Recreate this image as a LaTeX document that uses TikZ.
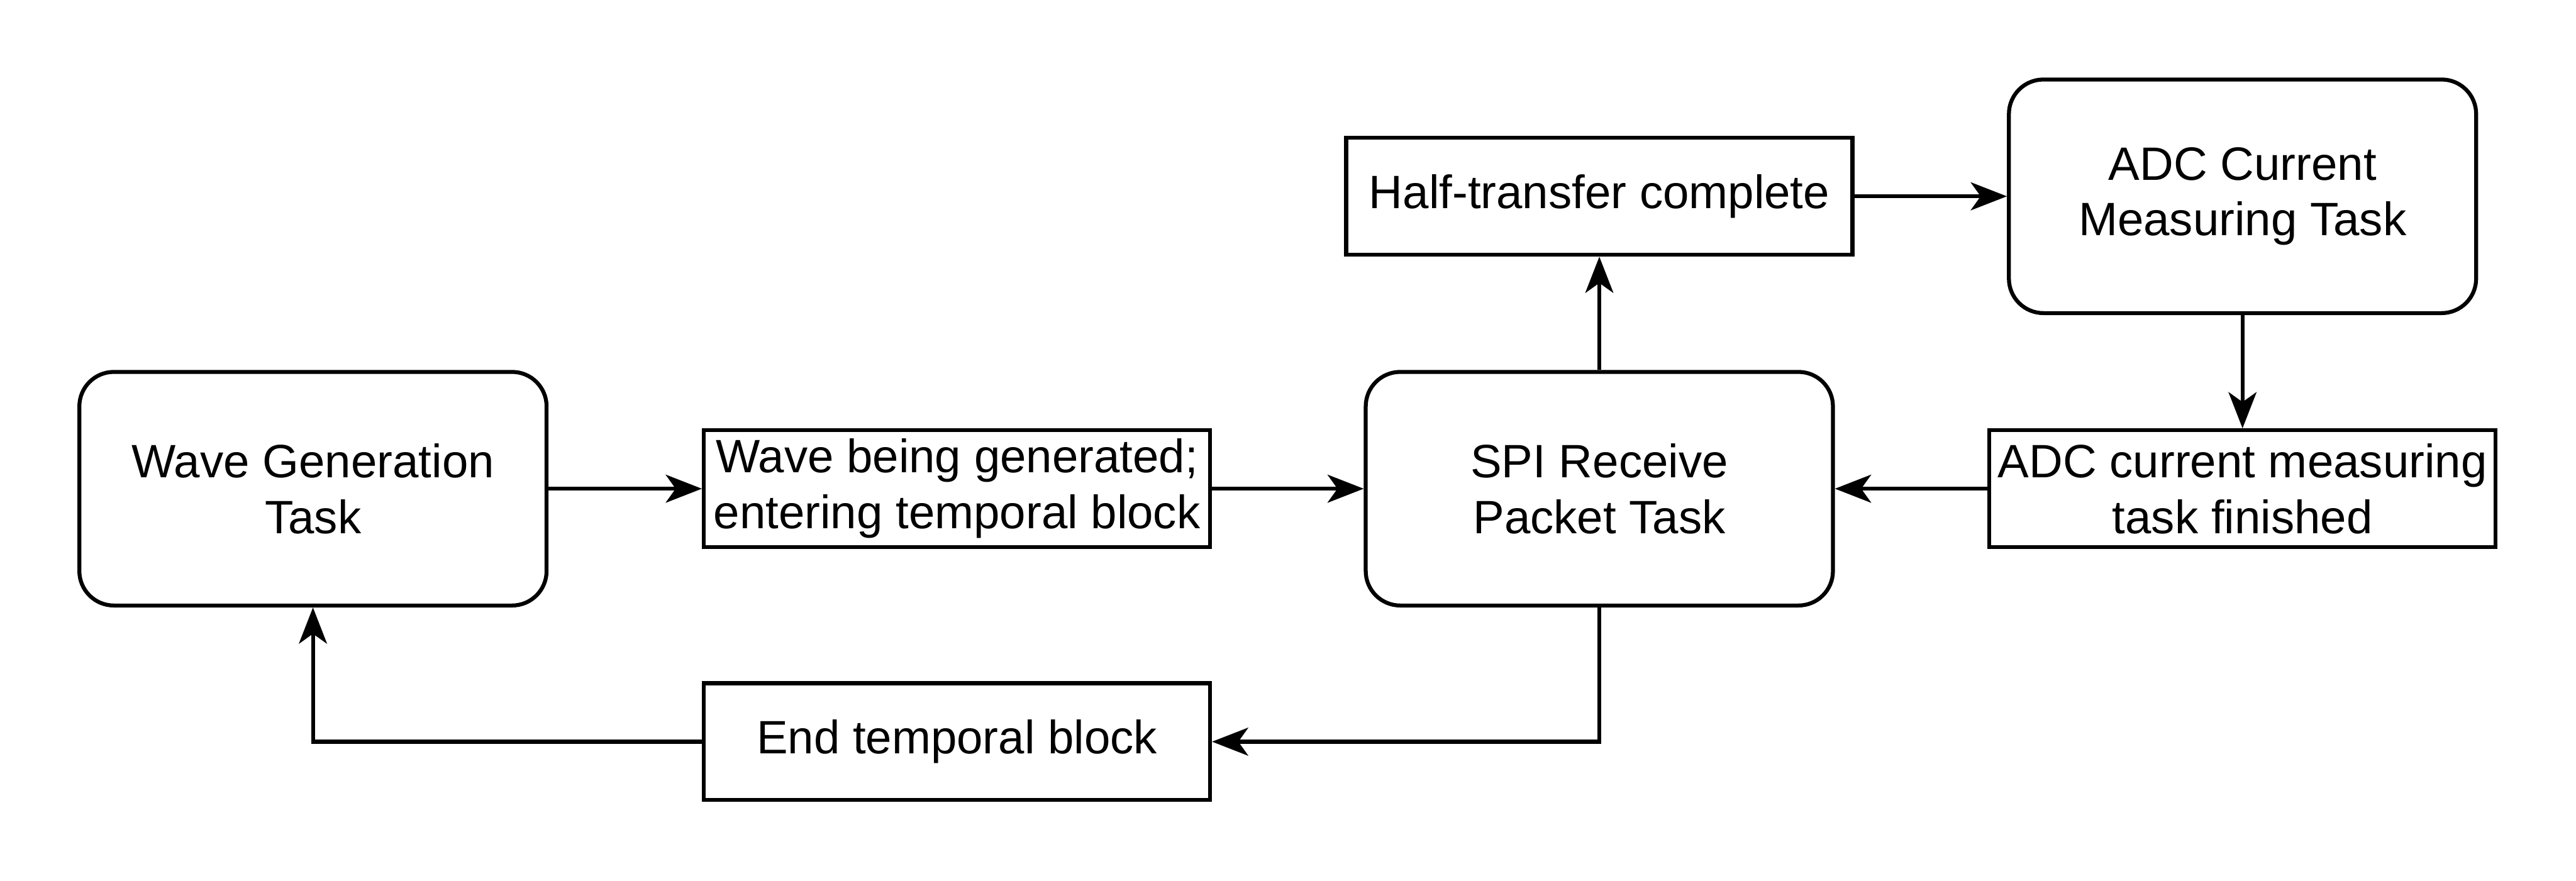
\documentclass[tikz,border=0pt]{standalone}
\usepackage{fontspec}
\setmainfont{Liberation Sans}
\usetikzlibrary{arrows.meta}
\begin{document}
\begin{tikzpicture}[x=1pt,y=-1pt,
  every node/.style={font=\fontsize{28.5pt}{34pt}\selectfont, align=center, inner sep=0pt, line width=2.4pt},
  task/.style={draw, rounded corners=21pt, minimum width=284.4pt, minimum height=142.2pt},
  event/.style={draw, minimum width=308.1pt, minimum height=71.1pt},
  conn/.style={line width=2.4pt, -{Stealth[length=22pt, width=17pt, inset=6pt]}}
]
\useasboundingbox (0,0) rectangle (1568,536);
\node[task] (wave) at (190.5,297.5) {Wave Generation\\Task};
\node[event] (being) at (582.5,297.5) {Wave being generated;\\entering temporal block};
\node[task] (spi) at (973.5,297.5) {SPI Receive\\Packet Task};
\node[event] (half) at (973.5,119.5) {Half-transfer complete};
\node[task] (adc) at (1365,119.5) {ADC Current\\Measuring Task};
\node[event] (fin) at (1365,297.5) {ADC current measuring\\task finished};
\node[event] (end) at (582.5,451.5) {End temporal block};
\draw[conn] (wave) -- (being);
\draw[conn] (being) -- (spi);
\draw[conn] (spi) -- (half);
\draw[conn] (half) -- (adc);
\draw[conn] (adc) -- (fin);
\draw[conn] (fin) -- (spi);
\draw[conn] (spi.south) |- (end.east);
\draw[conn] (end.west) -| (wave.south);
\end{tikzpicture}
\end{document}
